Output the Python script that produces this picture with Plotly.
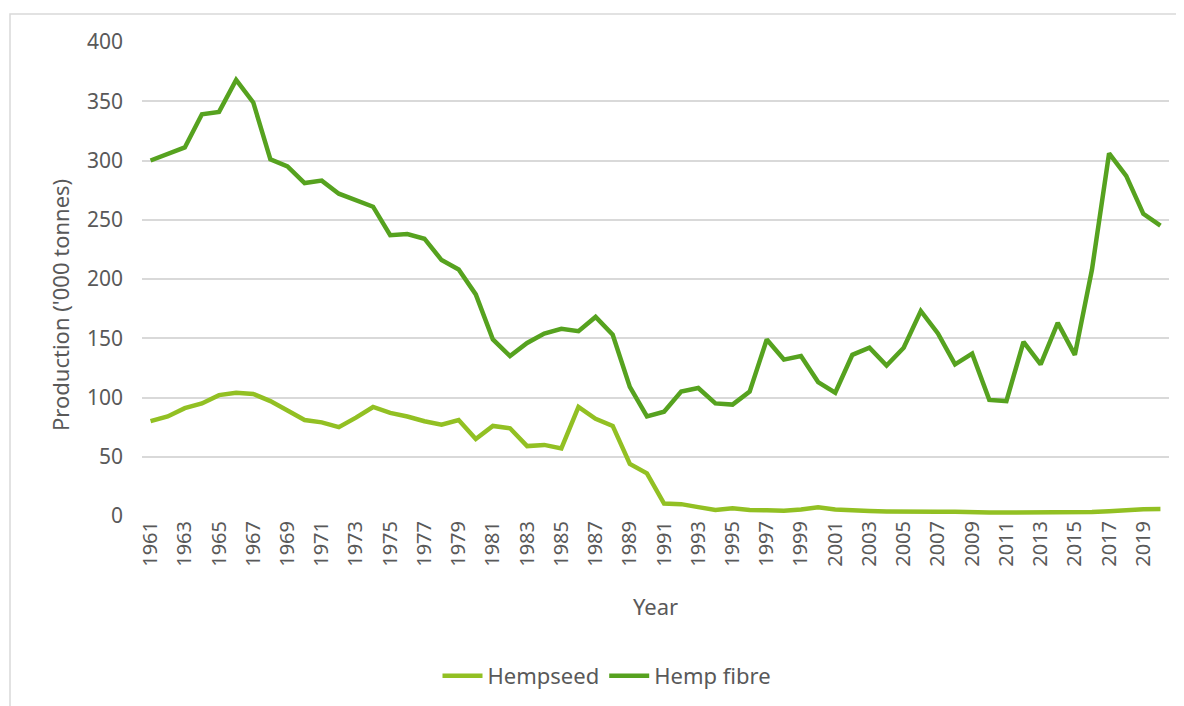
import plotly.graph_objects as go

years = list(range(1961, 2021))

hempseed = [80, 84, 91, 95, 102, 104, 103, 97, 89, 81,
            79, 75, 83, 92, 87, 84, 80, 77, 81, 65,
            76, 74, 59, 60, 57, 92, 82, 76, 44, 36,
            10.5, 10, 7.5, 5, 6.5, 5, 4.8, 4.5, 5.5, 7.3,
            5.5, 4.5, 4.2, 3.8, 4, 3.8, 3.5, 3.5, 3, 3,
            3, 3, 3, 3, 3, 3.3, 4, 5, 5.8, 6]

hemp_fibre = [300, 305, 311, 339, 341, 368, 349, 301, 295, 281,
              283, 272, 267, 261, 237, 238, 234, 216, 208, 187,
              149, 135, 146, 154, 158, 156, 168, 153, 109, 84,
              88, 105, 108, 95, 94, 105, 149, 132, 135, 113,
              104, 136, 142, 127, 142, 173, 154, 128, 137, 98,
              97, 147, 128, 163, 136, 208, 306, 287, 255, 245]

tick_years = years[::2]
tick_labels = [str(y) for y in tick_years]
y_ticks = [0, 50, 100, 150, 200, 250, 300, 350, 400]

C_SEED = "#92C023"
C_FIBRE = "#56A21F"
GREY_TXT = "#595959"
GRID = "#D9D9D9"
FONT = "Noto Sans"

# page has an 8px body margin; work in page pixel coordinates
OFF = 8
W, H = 1176, 698
PL, PR, PT, PB = 142, 1169, 42, 516   # plot area in page px
L = PL - OFF
T = PT - OFF
R = (W + OFF) - PR
B = (H + OFF) - PB

fig = go.Figure()
fig.add_trace(go.Scatter(x=years, y=hempseed, mode="lines", name="Hempseed",
                         line=dict(color=C_SEED, width=4.5)))
fig.add_trace(go.Scatter(x=years, y=hemp_fibre, mode="lines", name="Hemp fibre",
                         line=dict(color=C_FIBRE, width=4.5)))

pw = PR - PL
ph = PB - PT

def px_x(p):
    return (p - PL) / pw

def px_y(p):
    return (PB - p) / ph

fig.update_layout(
    width=W, height=H,
    margin=dict(l=L, r=R, t=T, b=B, pad=0, autoexpand=False),
    paper_bgcolor="white", plot_bgcolor="white",
    font=dict(family=FONT, color=GREY_TXT, size=21),
    showlegend=True,
    legend=dict(orientation="h", x=px_x(607), xanchor="center",
                y=px_y(676), yanchor="middle",
                font=dict(size=22, color=GREY_TXT), itemwidth=40,
                bgcolor="rgba(0,0,0,0)"),
    xaxis=dict(range=[1960.5, 2020.5], tickmode="array", tickvals=tick_years,
               ticktext=tick_labels, tickangle=-90, showgrid=False,
               zeroline=False, showline=False, ticks="", automargin=False,
               tickfont=dict(size=20, color=GREY_TXT, family=FONT)),
    yaxis=dict(range=[0, 400], tickmode="array", tickvals=y_ticks,
               showgrid=True, gridcolor=GRID, gridwidth=1.5, zeroline=False,
               showline=False, ticks="", ticklabelstandoff=18, automargin=False,
               tickfont=dict(size=21, color=GREY_TXT, family=FONT)),
    annotations=[
        dict(text="Year", xref="paper", yref="paper", x=px_x(655), y=px_y(606),
             xanchor="center", yanchor="middle", showarrow=False,
             font=dict(size=22, color=GREY_TXT, family=FONT)),
        dict(text="Production ('000 tonnes)", xref="paper", yref="paper",
             x=px_x(60), y=px_y(305), xanchor="center", yanchor="middle",
             textangle=-90, showarrow=False,
             font=dict(size=22, color=GREY_TXT, family=FONT)),
    ],
    shapes=[
        dict(type="rect", xref="paper", yref="paper",
             x0=px_x(10), x1=px_x(1200), y0=px_y(720), y1=px_y(14),
             line=dict(color=GRID, width=1.5), fillcolor="rgba(0,0,0,0)",
             layer="below"),
    ],
)

fig.write_html("out.html")
